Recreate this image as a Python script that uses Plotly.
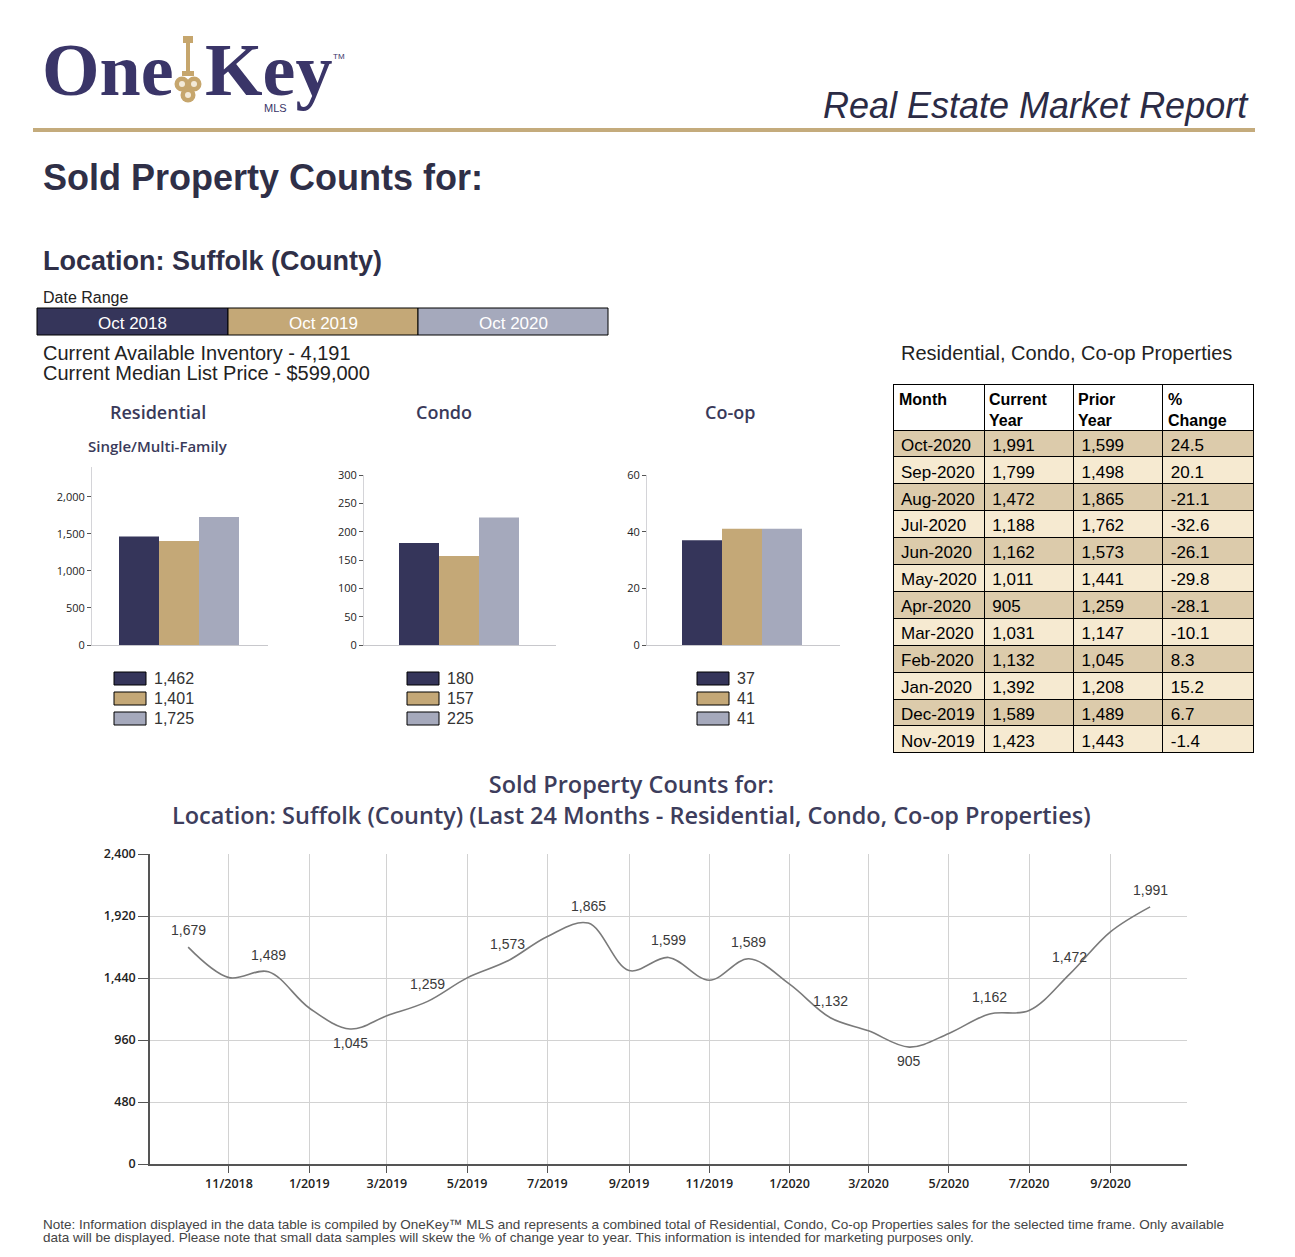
import plotly.graph_objects as go

W, H = 1295, 1257


def fx(x):
    return x / W


def fy(y):
    return 1 - y / H


NAVY = "#35355a"
GOLD = "#c4a877"
GREY = "#a5a9bc"
TEXT = "#2f2f47"
SERIES_COLORS = [NAVY, GOLD, GREY]

# ---------------- data ----------------
period_labels = ["Oct 2018", "Oct 2019", "Oct 2020"]
residential_counts = [1462, 1401, 1725]
condo_counts = [180, 157, 225]
coop_counts = [37, 41, 41]

inventory_text = "Current Available Inventory - 4,191"
median_price_text = "Current Median List Price - $599,000"

table_headers = ["Month", "Current<br>Year", "Prior<br>Year", "%<br>Change"]
table_months = ["Oct-2020", "Sep-2020", "Aug-2020", "Jul-2020", "Jun-2020", "May-2020",
                "Apr-2020", "Mar-2020", "Feb-2020", "Jan-2020", "Dec-2019", "Nov-2019"]
table_current = [1991, 1799, 1472, 1188, 1162, 1011, 905, 1031, 1132, 1392, 1589, 1423]
table_prior = [1599, 1498, 1865, 1762, 1573, 1441, 1259, 1147, 1045, 1208, 1489, 1443]
table_pct = [24.5, 20.1, -21.1, -32.6, -26.1, -29.8, -28.1, -10.1, 8.3, 15.2, 6.7, -1.4]

trend_months = ["2018-10-01", "2018-11-01", "2018-12-01", "2019-01-01", "2019-02-01",
                "2019-03-01", "2019-04-01", "2019-05-01", "2019-06-01", "2019-07-01",
                "2019-08-01", "2019-09-01", "2019-10-01", "2019-11-01", "2019-12-01",
                "2020-01-01", "2020-02-01", "2020-03-01", "2020-04-01", "2020-05-01",
                "2020-06-01", "2020-07-01", "2020-08-01", "2020-09-01", "2020-10-01"]
trend_counts = [1679, 1443, 1489, 1208, 1045, 1147, 1259, 1441, 1573, 1762, 1865, 1498,
                1599, 1423, 1589, 1392, 1132, 1031, 905, 1011, 1162, 1188, 1472, 1799, 1991]

# ---------------- figure ----------------
fig = go.Figure()

bar_charts = [
    ("Residential", residential_counts, "x", "y"),
    ("Condo", condo_counts, "x2", "y2"),
    ("Co-op", coop_counts, "x3", "y3"),
]
for name, vals, xa, ya in bar_charts:
    for j, (lab, v) in enumerate(zip(period_labels, vals)):
        fig.add_trace(go.Bar(x=[name], y=[v], name=lab, marker=dict(color=SERIES_COLORS[j], line=dict(width=0)),
                             offsetgroup=str(j), xaxis=xa, yaxis=ya, showlegend=False,
                             hoverinfo="y"))

# trend line
fig.add_trace(go.Scatter(
    x=trend_months, y=trend_counts, mode="lines",
    line=dict(color="#7a7a7a", width=1.6, shape="spline", smoothing=1.0),
    xaxis="x4", yaxis="y4", showlegend=False))

# table (header text drawn separately so the two-line header keeps its height)
row_fill = ["#dccbab" if i % 2 == 0 else "#f6ead1" for i in range(len(table_months))]
fig.add_trace(go.Table(
    domain=dict(x=[fx(893), fx(1253)], y=[fy(790), fy(384)]),
    columnwidth=[91, 89, 89, 90],
    header=dict(values=["", "", "", ""], fill_color="white", line=dict(color="black", width=1),
                align="left", font=dict(family="Liberation Sans, Arial", size=10, color="black"), height=46),
    cells=dict(values=[table_months,
                       [f"{v:,}" for v in table_current],
                       [f"{v:,}" for v in table_prior],
                       [f"{v}" for v in table_pct]],
               fill_color=[row_fill] * 4, line=dict(color="black", width=1), align="left",
               font=dict(family="Liberation Sans, Arial", size=17, color="black"), height=26.9),
))

tickfont_small = dict(family="Open Sans, Liberation Sans", size=11, color="#222")


def bar_xaxis(x0, x1, rng):
    return dict(domain=[fx(x0), fx(x1)], range=rng, type="category", showticklabels=False,
                showline=True, linecolor="#c8c8cc", linewidth=1, showgrid=False, zeroline=False,
                ticks="", fixedrange=True, automargin=False)


def bar_yaxis(anchor, top_px, rmax, dt):
    return dict(domain=[fy(645), fy(top_px)], anchor=anchor, range=[0, rmax], dtick=dt, tickformat=",",
                ticks="outside", ticklen=4, tickcolor="#555", showline=True, linecolor="#d4d4d8",
                linewidth=1, showgrid=False, zeroline=False, tickfont=tickfont_small, fixedrange=True,
                automargin=False)


shapes = []
annotations = []


def add_text(x, y, text, size, color=TEXT, family="Liberation Sans, Arial", xanchor="left",
             weight="normal", style="normal", yanchor="middle", align="center"):
    annotations.append(dict(x=fx(x), y=fy(y), xref="paper", yref="paper", text=text, showarrow=False,
                            xanchor=xanchor, yanchor=yanchor, align=align,
                            font=dict(size=size, color=color, family=family, weight=weight, style=style)))


# ---- logo ----
LOGO_NAVY = "#3a3568"
LOGO_GOLD = "#c6a66d"
add_text(40, 70, "One", 74, color=LOGO_NAVY, family="Liberation Serif, DejaVu Serif", weight="bold")
add_text(203, 70, "Key", 74, color=LOGO_NAVY, family="Liberation Serif, DejaVu Serif", weight="bold")
add_text(331, 56, "TM", 8, color=LOGO_NAVY, family="Liberation Sans")
add_text(262, 108, "MLS", 11, color=LOGO_NAVY, family="Liberation Sans")
# key: ring, shaft, collar and three-lobed bow
shapes.append(dict(type="rect", xref="paper", yref="paper", x0=fx(183), x1=fx(193), y0=fy(43), y1=fy(36),
                   fillcolor=LOGO_GOLD, line=dict(width=0)))
shapes.append(dict(type="rect", xref="paper", yref="paper", x0=fx(186), x1=fx(190), y0=fy(74), y1=fy(42),
                   fillcolor=LOGO_GOLD, line=dict(width=0)))
shapes.append(dict(type="rect", xref="paper", yref="paper", x0=fx(182), x1=fx(194), y0=fy(76), y1=fy(71),
                   fillcolor=LOGO_GOLD, line=dict(width=0)))
for cx, cy in [(182, 84), (194, 84), (188, 95)]:
    shapes.append(dict(type="circle", xref="paper", yref="paper", x0=fx(cx - 7.5), x1=fx(cx + 7.5),
                       y0=fy(cy + 7.5), y1=fy(cy - 7.5), fillcolor=LOGO_GOLD, line=dict(width=0)))
for cx, cy in [(182, 84), (194, 84), (188, 95)]:
    shapes.append(dict(type="circle", xref="paper", yref="paper", x0=fx(cx - 3), x1=fx(cx + 3),
                       y0=fy(cy + 3), y1=fy(cy - 3), fillcolor="#f3ead8", line=dict(width=0)))

add_text(1251, 106, "Real Estate Market Report", 36, color="#2b2b45", xanchor="right", style="italic")
shapes.append(dict(type="line", xref="paper", yref="paper", x0=fx(33), x1=fx(1255), y0=fy(130), y1=fy(130),
                   line=dict(color="#c4ab7c", width=4)))

add_text(41, 177, "Sold Property Counts for:", 36, color=TEXT, weight="bold")
add_text(41, 261, "Location: Suffolk (County)", 27, color=TEXT, weight="bold")
add_text(41, 297, "Date Range", 16, color="#222")

box_edges = [37, 228, 418, 608]
for j, lab in enumerate(period_labels):
    shapes.append(dict(type="rect", xref="paper", yref="paper", x0=fx(box_edges[j]), x1=fx(box_edges[j + 1]),
                       y0=fy(335), y1=fy(308), fillcolor=SERIES_COLORS[j], line=dict(color="black", width=1)))
    add_text((box_edges[j] + box_edges[j + 1]) / 2, 323, lab, 17, color="white", xanchor="center")

add_text(41, 353, inventory_text, 20, color="#222")
add_text(41, 373, median_price_text, 20, color="#222")

add_text(899, 353, "Residential, Condo, Co-op Properties", 20, color="#222")

# table header text
for hx, htxt in zip([897, 987, 1076, 1166], table_headers):
    add_text(hx, 389, f"<b>{htxt}</b>", 16, color="black", yanchor="top", align="left")

# bar chart titles and legends
title_font = "Open Sans, Noto Sans, Liberation Sans"
add_text(158, 412, "Residential", 18, color="#3a3a5a", family=title_font, xanchor="center", weight=600)
add_text(158, 446, "Single/Multi-Family", 15, color="#3a3a5a", family=title_font, xanchor="center", weight=600)
add_text(444, 412, "Condo", 18, color="#3a3a5a", family=title_font, xanchor="center", weight=600)
add_text(730, 412, "Co-op", 18, color="#3a3a5a", family=title_font, xanchor="center", weight=600)

legend_x = [114, 407, 697]
for (name, vals, xa, ya), lx in zip(bar_charts, legend_x):
    for j, v in enumerate(vals):
        top = 672 + 20 * j
        shapes.append(dict(type="rect", xref="paper", yref="paper", x0=fx(lx), x1=fx(lx + 32),
                           y0=fy(top + 13), y1=fy(top), fillcolor=SERIES_COLORS[j],
                           line=dict(color="black", width=1)))
        add_text(lx + 38, top + 6.5, f"{v:,}", 16, color="#333")

# line chart title
add_text(631, 799, "Sold Property Counts for:<br>Location: Suffolk (County) (Last 24 Months - Residential, Condo, Co-op Properties)",
         23.5, color="#3d3d5c", family=title_font, xanchor="center", weight=600)

# value labels on every second month of the trend line
for i, v in enumerate(trend_counts):
    if i % 2:
        continue
    prev_v = trend_counts[i - 1] if i > 0 else None
    next_v = trend_counts[i + 1] if i < len(trend_counts) - 1 else None
    is_min = prev_v is not None and next_v is not None and v < prev_v and v < next_v
    annotations.append(dict(x=trend_months[i], y=v, xref="x4", yref="y4", text=f"{v:,}", showarrow=False,
                            xanchor="center", yanchor="middle", yshift=-14 if is_min else 17,
                            font=dict(family="Liberation Sans, Arial", size=14, color="#3a3a3a")))

# footer
add_text(41, 1224, "Note: Information displayed in the data table is compiled by OneKey\u2122 MLS and represents a combined total of Residential, Condo, Co-op Properties sales for the selected time frame. Only available",
         13.5, color="#444", family="Liberation Sans, Arial")
add_text(41, 1237, "data will be displayed. Please note that small data samples will skew the % of change year to year. This information is intended for marketing purposes only.",
         13.5, color="#444", family="Liberation Sans, Arial")

axis_font = dict(family="Open Sans, Liberation Sans", size=12.5, color="#222", weight=600)

fig.update_layout(
    width=W, height=H, margin=dict(l=0, r=0, t=0, b=0, pad=0, autoexpand=False),
    paper_bgcolor="white", plot_bgcolor="white",
    barmode="group", bargap=0.4, bargroupgap=0,
    showlegend=False,
    xaxis=bar_xaxis(92, 268, [-0.435, 0.445]),
    yaxis=bar_yaxis("x", 467, 2400, 500),
    xaxis2=dict(bar_xaxis(364, 556, [-0.475, 0.485]), anchor="y2"),
    yaxis2=bar_yaxis("x2", 475, 300, 50),
    xaxis3=dict(bar_xaxis(647, 840, [-0.475, 0.49]), anchor="y3"),
    yaxis3=bar_yaxis("x3", 475, 60, 20),
    xaxis4=dict(domain=[fx(150), fx(1187)], anchor="y4", type="date",
                range=["2018-09-02", "2020-10-29"], tick0="2018-11-01", dtick="M2",
                tickformat="%-m/%Y", showgrid=True, gridcolor="#d2d2d2", gridwidth=1,
                showline=True, linecolor="#555", linewidth=1.5, ticks="outside", ticklen=7,
                tickcolor="#555", zeroline=False, tickfont=axis_font, automargin=False),
    yaxis4=dict(domain=[fy(1164), fy(854)], anchor="x4", range=[0, 2400], dtick=480, tickformat=",",
                showgrid=True, gridcolor="#d2d2d2", gridwidth=1, showline=True, linecolor="#555",
                linewidth=1.5, ticks="outside", ticklen=10, tickcolor="#555", zeroline=False,
                tickfont=axis_font, automargin=False),
    shapes=shapes,
    annotations=annotations,
)

page_fix = ("var gd=document.getElementById('{plot_id}');"
            "document.documentElement.style.margin='0px';document.body.style.margin='0px';"
            "document.documentElement.style.overflow='hidden';document.body.style.overflow='hidden';"
            "gd.style.position='absolute';gd.style.left='0px';gd.style.top='0px';")
fig.write_html("out.html", config={"displayModeBar": False}, post_script=page_fix)
